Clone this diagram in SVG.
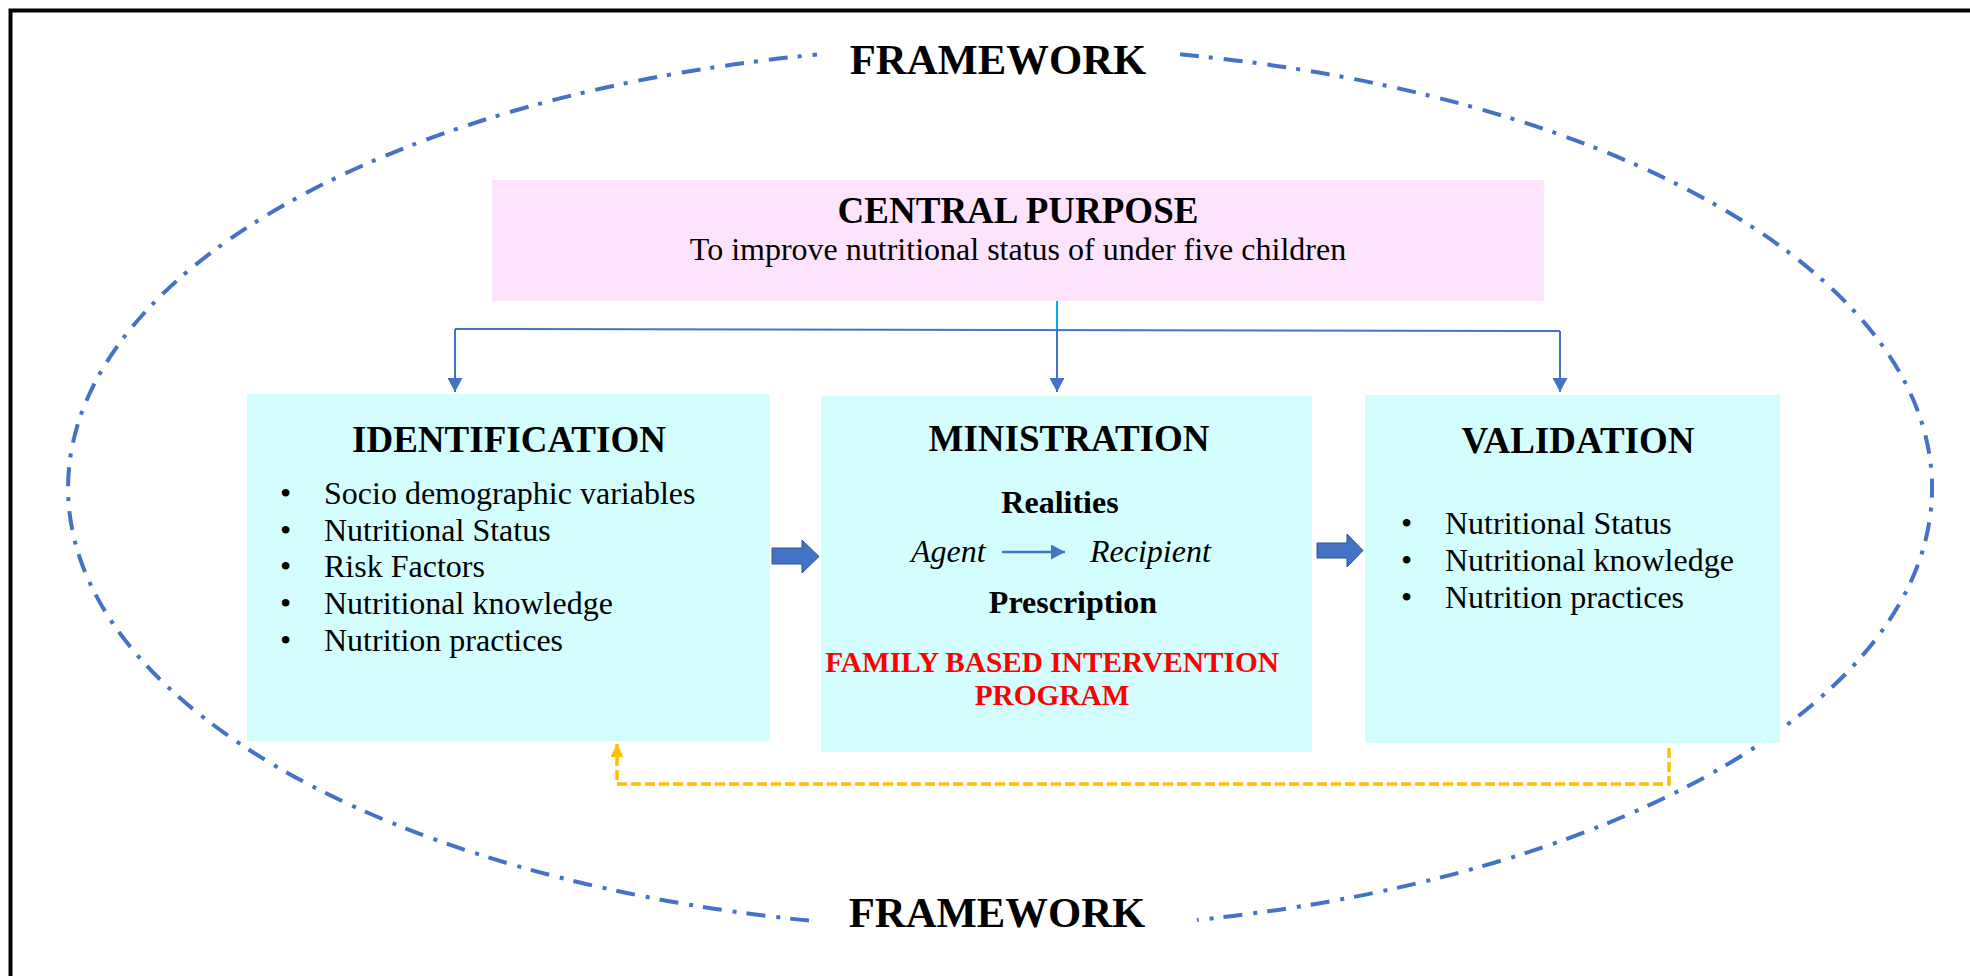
<svg xmlns="http://www.w3.org/2000/svg" width="1970" height="976" viewBox="0 0 1970 976">
  <defs>
    <style>
      .title { font-family: "Liberation Serif", "Times New Roman", serif; font-weight: bold; font-size: 37px; fill: #000; text-anchor: middle; }
      .body { font-family: "Liberation Serif", "Times New Roman", serif; font-size: 32px; fill: #000; }
      .sub { font-family: "Liberation Serif", "Times New Roman", serif; font-weight: bold; font-size: 32px; fill: #000; text-anchor: middle; }
      .ital { font-family: "Liberation Serif", "Times New Roman", serif; font-style: italic; font-size: 32px; fill: #000; }
      .red { font-family: "Liberation Serif", "Times New Roman", serif; font-weight: bold; font-size: 29.3px; fill: #FF0000; text-anchor: middle; }
      .frame { font-family: "Liberation Serif", "Times New Roman", serif; font-weight: bold; font-size: 42.7px; fill: #000; text-anchor: middle; }
      .box { fill: #D3FEFD; }
      .ring { fill: none; stroke: #4472C4; stroke-width: 4; stroke-dasharray: 19 10 4 11; }
      .link { fill: none; stroke: #4472C4; stroke-width: 2; }
      .loop { fill: none; stroke: #FFC000; stroke-width: 3.5; stroke-dasharray: 10 4; }
      .block { fill: #4472C4; stroke: #2F528F; stroke-width: 1; }
    </style>
    <marker id="tipBlue" viewBox="0 0 14 15" refX="14" refY="7.5" markerWidth="14" markerHeight="15" markerUnits="userSpaceOnUse" orient="auto">
      <path d="M0 0 L14 7.5 L0 15 Z" fill="#4472C4"/>
    </marker>
    <marker id="tipGold" viewBox="0 0 13 13" refX="13" refY="6.5" markerWidth="13" markerHeight="13" markerUnits="userSpaceOnUse" orient="auto">
      <path d="M0 0 L13 6.5 L0 13 Z" fill="#FFC000"/>
    </marker>
  </defs>

  <rect width="1970" height="976" fill="#FFFFFF"/>

  <!-- page frame (open to the right and bottom) -->
  <path d="M10.5 976 V10.5 H1970" fill="none" stroke="#000" stroke-width="4"/>

  <!-- dash-dot framework ring, broken where the labels sit -->
  <g id="framework">
    <path class="ring" d="M1180 54.3 A932 442 0 0 1 1197 920"/>
    <path class="ring" d="M809 920.6 A932 442 0 0 1 817 54.6"/>
    <text class="frame" x="998" y="74">FRAMEWORK</text>
    <text class="frame" x="997" y="927">FRAMEWORK</text>
  </g>

  <g id="central-purpose">
    <rect x="492" y="180" width="1052" height="121" fill="#FDE4FC"/>
    <text class="title" x="1018" y="223">CENTRAL PURPOSE</text>
    <text class="body" x="1018" y="260" text-anchor="middle">To improve nutritional status of under five children</text>
  </g>

  <g id="identification">
    <rect class="box" x="247" y="394" width="523" height="347"/>
    <text class="title" x="509" y="452">IDENTIFICATION</text>
    <g class="body">
      <text x="280" y="504">•</text><text x="324" y="504">Socio demographic variables</text>
      <text x="280" y="541">•</text><text x="324" y="541">Nutritional Status</text>
      <text x="280" y="577">•</text><text x="324" y="577">Risk Factors</text>
      <text x="280" y="614">•</text><text x="324" y="614">Nutritional knowledge</text>
      <text x="280" y="651">•</text><text x="324" y="651">Nutrition practices</text>
    </g>
  </g>

  <g id="ministration">
    <rect class="box" x="821" y="396" width="491" height="356"/>
    <text class="title" x="1069" y="451">MINISTRATION</text>
    <text class="sub" x="1060" y="513">Realities</text>
    <text class="ital" x="911" y="562">Agent</text>
    <line x1="1002" y1="552" x2="1065" y2="552" stroke="#4472C4" stroke-width="2.5" marker-end="url(#tipBlue)"/>
    <text class="ital" x="1090" y="562">Recipient</text>
    <text class="sub" x="1073" y="613">Prescription</text>
    <text class="red" x="1052" y="672">FAMILY BASED INTERVENTION</text>
    <text class="red" x="1052" y="705">PROGRAM</text>
  </g>

  <g id="validation">
    <rect class="box" x="1365" y="395" width="415" height="348"/>
    <text class="title" x="1578" y="453">VALIDATION</text>
    <g class="body">
      <text x="1401" y="534">•</text><text x="1445" y="534">Nutritional Status</text>
      <text x="1401" y="571">•</text><text x="1445" y="571">Nutritional knowledge</text>
      <text x="1401" y="608">•</text><text x="1445" y="608">Nutrition practices</text>
    </g>
  </g>

  <g id="connectors">
    <!-- purpose fans out to the three stages -->
    <line x1="1057" y1="301" x2="1057" y2="330" stroke="#00B0F0" stroke-width="2"/>
    <path class="link" d="M455 329 L1560 331"/>
    <path class="link" d="M455 329 V392" marker-end="url(#tipBlue)"/>
    <path class="link" d="M1057 330 V392" marker-end="url(#tipBlue)"/>
    <path class="link" d="M1560 331 V392" marker-end="url(#tipBlue)"/>

    <!-- block arrows between stages -->
    <path class="block" d="M772 548 H802 V540 L819 556.5 L802 573 V564 H772 Z"/>
    <path class="block" d="M1317 543 H1347 V534 L1363 550.5 L1347 567 V558 H1317 Z"/>

    <!-- feedback loop from validation back to identification -->
    <path class="loop" d="M1669 748 V784 H617 V744" marker-end="url(#tipGold)"/>
  </g>
</svg>
